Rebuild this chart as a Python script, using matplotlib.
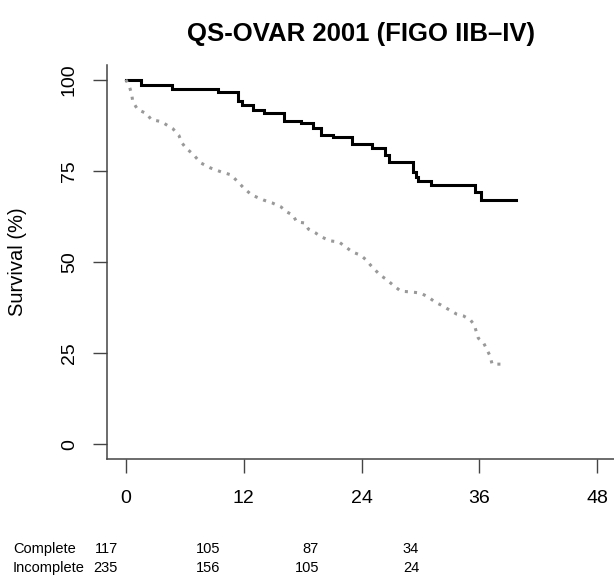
import matplotlib
matplotlib.use("Agg")
import matplotlib.pyplot as plt

plt.rcParams['font.family'] = ['Liberation Sans', 'DejaVu Sans']

# ---- data ----
title = "QS-OVAR 2001 (FIGO IIB\u2013IV)"
ylabel = "Survival (%)"
xticks = [0, 12, 24, 36, 48]
yticks = [0, 25, 50, 75, 100]

complete_t = [0, 1.5, 4.7, 9.4, 11.4, 11.8, 13.0, 14.1, 16.1, 17.8, 19.1, 19.9,
              21.1, 23.0, 25.1, 26.4, 26.8, 29.2, 29.5, 29.8, 31.1, 35.6, 36.2, 39.7]
complete_s = [100, 98.6, 97.5, 96.6, 94.0, 93.1, 91.6, 90.8, 88.7, 88.1, 86.7, 84.9,
              84.3, 82.4, 81.2, 79.4, 77.4, 74.8, 73.4, 72.3, 71.2, 69.3, 67.0, 67.0]

incomplete_t = [0, 0.4, 0.6, 0.7, 1.2, 2.1, 2.6, 3.6, 4.8, 5.4, 5.7, 6.1, 6.9, 7.6,
                8.6, 9.7, 10.7, 11.4, 12.0, 12.8, 14.0, 14.9, 15.8, 16.4, 17.0, 17.4,
                18.2, 18.6, 19.3, 19.9, 20.8, 21.7, 22.4, 23.1, 23.9, 24.5, 24.9, 25.4,
                25.9, 26.5, 27.2, 28.0, 29.0, 30.0, 30.8, 31.5, 32.1, 32.8, 33.7, 34.4,
                35.1, 35.5, 35.7, 35.9, 36.4, 36.7, 37.1, 37.3, 38.6]
incomplete_s = [100, 97.8, 95.9, 94.0, 91.8, 90.7, 89.0, 88.5, 86.5, 84.7, 82.7, 81.3,
                79.4, 77.2, 75.8, 74.7, 73.9, 72.0, 70.3, 68.4, 67.0, 66.2, 65.1, 63.7,
                62.9, 61.0, 60.7, 59.0, 58.0, 56.9, 55.8, 55.5, 54.1, 52.7, 51.9, 50.5,
                49.2, 47.8, 46.4, 45.3, 43.7, 42.0, 41.8, 41.5, 40.4, 39.0, 38.2, 37.1,
                35.7, 35.2, 34.1, 32.7, 30.8, 29.1, 28.0, 26.4, 24.2, 22.0, 22.0]

risk_groups = ["Complete", "Incomplete"]
risk_complete = [117, 105, 87, 34]
risk_incomplete = [235, 156, 105, 24]

# ---- figure ----
W, H = 614, 580
fig = plt.figure(figsize=(W / 100, H / 100), dpi=100)
ax = fig.add_axes([107 / W, 1 - 459 / H, (616 - 107) / W, (459 - 65) / H])

ax.plot(complete_t, complete_s, drawstyle='steps-post', color='black', lw=2.2,
        solid_joinstyle='miter')
ax.plot(incomplete_t, incomplete_s, color='#999999', lw=2.2,
        linestyle=(0, (1, 2)), dash_capstyle='butt')

ax.set_xlim(-1.92, 49.92)
ax.set_ylim(-4, 104)
ax.set_xticks(xticks)
ax.set_yticks(yticks)
for s in ['top', 'right']:
    ax.spines[s].set_visible(False)
for s in ['left', 'bottom']:
    ax.spines[s].set_color('#444444')
    ax.spines[s].set_linewidth(1.1)
ax.tick_params(axis='both', length=10, width=1.0, color='#444444', labelsize=14)
ax.tick_params(axis='x', pad=12)
ax.tick_params(axis='y', labelrotation=90, pad=11)
for lab in ax.get_yticklabels():
    lab.set_va('center')

fig.text(361 / W, 1 - 34 / H, title, ha='center', va='center', fontsize=18.5,
         fontweight='bold')
fig.text(18 / W, 1 - 262 / H, ylabel, ha='center', va='center', rotation=90,
         fontsize=14.5)

row_y = [549, 568]
col_x = [118, 220, 319, 419]
for gi, (name, vals) in enumerate(zip(risk_groups, [risk_complete, risk_incomplete])):
    fig.text(13 / W, 1 - row_y[gi] / H, name, ha='left', va='center', fontsize=10.5)
    for cx, v in zip(col_x, vals):
        fig.text(cx / W, 1 - row_y[gi] / H, str(v), ha='right', va='center', fontsize=10.5)

fig.savefig("out.png", dpi=100)
